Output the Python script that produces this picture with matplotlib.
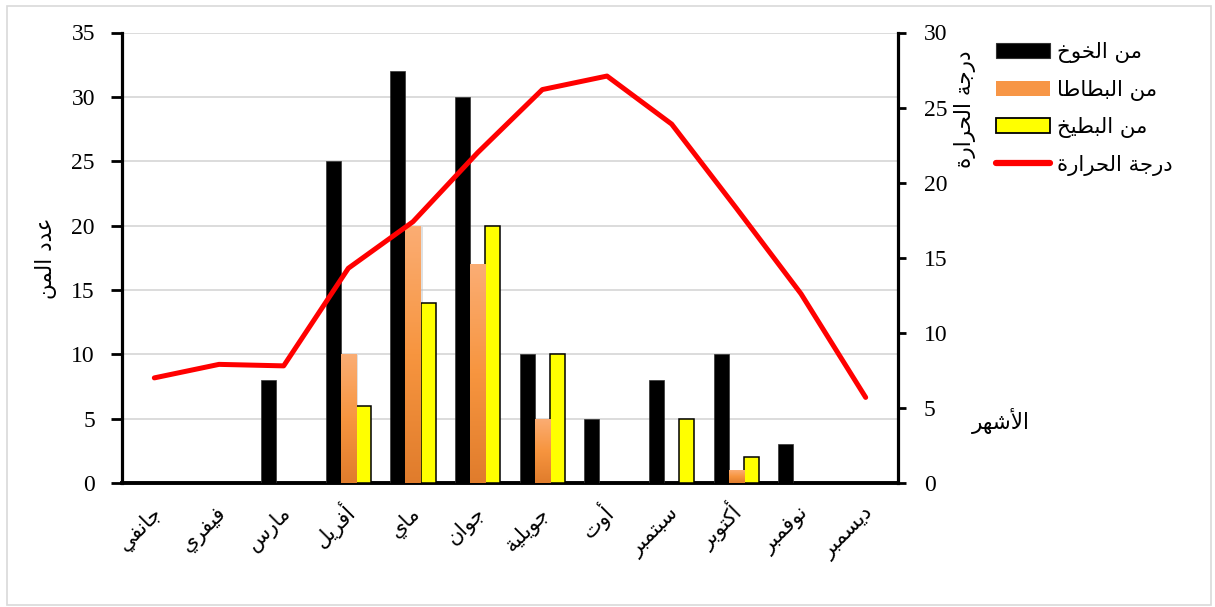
import numpy as np
import matplotlib
matplotlib.use("Agg")
import matplotlib.pyplot as plt
from matplotlib.patches import Rectangle, Patch
from matplotlib.lines import Line2D
from matplotlib.colors import LinearSegmentedColormap
import matplotlib.transforms as mtransforms

# ---------------- data ----------------
months = ["جانفي", "فيفري", "مارس", "أفريل", "ماي", "جوان",
          "جويلية", "أوت", "سبتمبر", "أكتوبر", "نوفمبر", "ديسمبر"]
peach_aphids = [0, 0, 8, 25, 32, 30, 10, 5, 8, 10, 3, 0]
potato_aphids = [0, 0, 0, 10, 20, 17, 5, 0, 0, 1, 0, 0]
melon_aphids = [0, 0, 0, 6, 14, 20, 10, 0, 5, 2, 0, 0]
temperature = [7.0, 7.9, 7.8, 14.3, 17.4, 22.0, 26.2, 27.1, 23.9, 18.3, 12.6, 5.7]

series_names = ["من الخوخ", "من البطاطا", "من البطيخ", "درجة الحرارة"]
left_label = "عدد المن"
right_label = "درجة الحرارة"
x_title = "الأشهر"
left_ticks = [0, 5, 10, 15, 20, 25, 30, 35]
right_ticks = [0, 5, 10, 15, 20, 25, 30]

# ---------------- Arabic shaping (presentation forms, visual order) ----------------
FORMS = {
    'ا': ('\uFE8D', '\uFE8E', None, None),
    'أ': ('\uFE83', '\uFE84', None, None),
    'ب': ('\uFE8F', '\uFE90', '\uFE91', '\uFE92'),
    'ة': ('\uFE93', '\uFE94', None, None),
    'ت': ('\uFE95', '\uFE96', '\uFE97', '\uFE98'),
    'ج': ('\uFE9D', '\uFE9E', '\uFE9F', '\uFEA0'),
    'ح': ('\uFEA1', '\uFEA2', '\uFEA3', '\uFEA4'),
    'خ': ('\uFEA5', '\uFEA6', '\uFEA7', '\uFEA8'),
    'د': ('\uFEA9', '\uFEAA', None, None),
    'ر': ('\uFEAD', '\uFEAE', None, None),
    'س': ('\uFEB1', '\uFEB2', '\uFEB3', '\uFEB4'),
    'ش': ('\uFEB5', '\uFEB6', '\uFEB7', '\uFEB8'),
    'ط': ('\uFEC1', '\uFEC2', '\uFEC3', '\uFEC4'),
    'ع': ('\uFEC9', '\uFECA', '\uFECB', '\uFECC'),
    'ف': ('\uFED1', '\uFED2', '\uFED3', '\uFED4'),
    'ك': ('\uFED9', '\uFEDA', '\uFEDB', '\uFEDC'),
    'ل': ('\uFEDD', '\uFEDE', '\uFEDF', '\uFEE0'),
    'م': ('\uFEE1', '\uFEE2', '\uFEE3', '\uFEE4'),
    'ن': ('\uFEE5', '\uFEE6', '\uFEE7', '\uFEE8'),
    'ه': ('\uFEE9', '\uFEEA', '\uFEEB', '\uFEEC'),
    'و': ('\uFEED', '\uFEEE', None, None),
    'ي': ('\uFEF1', '\uFEF2', '\uFEF3', '\uFEF4'),
}
LAM_ALEF = {'أ': ('\uFEF7', '\uFEF8', None, None),
            'ا': ('\uFEFB', '\uFEFC', None, None)}


def shape(text):
    tokens = []
    i = 0
    while i < len(text):
        c = text[i]
        if c == 'ل' and i + 1 < len(text) and text[i + 1] in LAM_ALEF:
            tokens.append(LAM_ALEF[text[i + 1]])
            i += 2
        else:
            tokens.append(FORMS.get(c, c))
            i += 1
    out = []
    for k, t in enumerate(tokens):
        if isinstance(t, str):
            out.append(t)
            continue
        prev = tokens[k - 1] if k > 0 else None
        nxt = tokens[k + 1] if k + 1 < len(tokens) else None
        join_prev = isinstance(prev, tuple) and prev[2] is not None
        join_next = t[2] is not None and isinstance(nxt, tuple)
        if join_prev and join_next:
            out.append(t[3])
        elif join_prev:
            out.append(t[1])
        elif join_next:
            out.append(t[2])
        else:
            out.append(t[0])
    return ''.join(reversed(out))


AR_FONT = "DejaVu Sans"
NUM_FONT = "Liberation Serif"

# ---------------- figure ----------------
W, H = 1215, 607
fig = plt.figure(figsize=(W / 100, H / 100), dpi=100)
fig.patch.set_facecolor("white")
fig.add_artist(Rectangle((7 / W, 1 - 605 / H), (1211 - 7) / W, (605 - 6) / H,
                         transform=fig.transFigure, fill=False,
                         ec="#D9D9D9", lw=1.2))

ax = fig.add_axes([122 / W, (H - 483) / H, (898 - 122) / W, (483 - 32.5) / H])
x = np.arange(len(months))
bw = 0.235

ax.set_xlim(-0.5, len(months) - 0.5)
ax.set_ylim(0, 35)
ax.set_yticks(left_ticks)
ax.yaxis.grid(True, color="#D9D9D9", lw=1.3)
ax.set_axisbelow(True)

b_peach = ax.bar(x - bw, peach_aphids, bw, color="black", ec="#333333",
                 lw=0.5, zorder=3)

# potato bars: soft shadow + vertical orange gradient
orange_cmap = LinearSegmentedColormap.from_list(
    "orng", ["#E07C2C", "#F7953F", "#FBAD74"])
b_potato = ax.bar(x, potato_aphids, bw, color="#F79646", lw=0, zorder=3)
shadow_off = mtransforms.ScaledTranslation(2.5 / 100, -1 / 100, fig.dpi_scale_trans)
grad = np.linspace(0, 1, 256).reshape(-1, 1)
for p in b_potato:
    h = p.get_height()
    if h <= 0:
        continue
    x0 = p.get_x()
    sh = Rectangle((x0, 0), p.get_width(), h, transform=ax.transData + shadow_off,
                   fc="#BBBBBB", ec="none", alpha=0.45, zorder=2.5)
    ax.add_patch(sh)
    im = ax.imshow(grad, cmap=orange_cmap, origin="lower", aspect="auto",
                   extent=(x0, x0 + p.get_width(), 0, h), zorder=3.1)
    im.set_clip_path(p)

b_melon = ax.bar(x + bw, melon_aphids, bw, color="#FFFF00", ec="black",
                 lw=1.1, zorder=3)
ax.set_xlim(-0.5, len(months) - 0.5)
ax.set_ylim(0, 35)

for s in ("top", "right"):
    ax.spines[s].set_visible(False)
ax.spines["left"].set_linewidth(2.3)
ax.spines["bottom"].set_linewidth(2.8)
ax.tick_params(axis="y", direction="out", length=8, width=2, pad=11.5,
               labelsize=17, labelfontfamily=NUM_FONT)
ax.tick_params(axis="x", length=0, labelbottom=False)

# month labels, rotated, ending just under their category
lab_off = mtransforms.ScaledTranslation(8 / 100, -31 / 100, fig.dpi_scale_trans)
for xi, m in zip(x, months):
    ax.text(xi, 0, shape(m), transform=ax.get_xaxis_transform() + lab_off,
            rotation=45, rotation_mode="anchor", ha="right", va="baseline",
            fontsize=15, family=AR_FONT)

# temperature on the secondary axis
ax2 = ax.twinx()
ax2.set_ylim(0, 30)
ax2.set_yticks(right_ticks)
ax2.plot(x, temperature, color="#FF0000", lw=3.6, solid_capstyle="round",
         solid_joinstyle="round", zorder=5)
for s in ("top", "left", "bottom"):
    ax2.spines[s].set_visible(False)
ax2.spines["right"].set_linewidth(2.3)
ax2.tick_params(axis="y", direction="out", length=6, width=2, pad=12.5,
                labelsize=17, labelfontfamily=NUM_FONT)

# axis titles
fig.text(46 / W, 1 - 258 / H, shape(left_label), rotation=90, ha="center",
         va="center", fontsize=15.5, family=AR_FONT)
fig.text(965 / W, 1 - 109 / H, shape(right_label), rotation=90, ha="center",
         va="center", fontsize=15.5, family=AR_FONT)
fig.text(1001 / W, 1 - 421 / H, shape(x_title), ha="center", va="center",
         fontsize=15.5, family=AR_FONT)

# legend
handles = [
    Patch(fc="black", ec="#333333", lw=0.8),
    Patch(fc="#F79646", ec="none"),
    Patch(fc="#FFFF00", ec="black", lw=1.3),
    Line2D([0], [0], color="#FF0000", lw=4.5, solid_capstyle="round"),
]
fig.legend(handles, [shape(s) for s in series_names],
           loc="upper left", bbox_to_anchor=(996 / W, 1 - 42 / H),
           frameon=False, borderpad=0, borderaxespad=0,
           prop={"family": AR_FONT, "size": 15.3},
           handlelength=2.55, handleheight=0.7, handletextpad=0.3,
           labelspacing=0.78)

fig.savefig("out.png", dpi=100, facecolor="white")
